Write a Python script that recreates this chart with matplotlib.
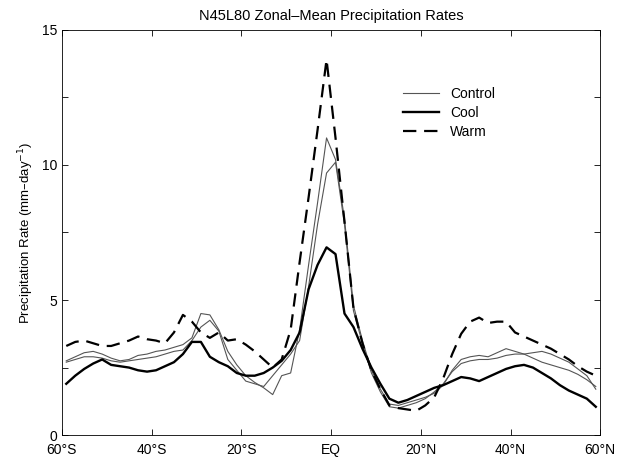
import matplotlib
matplotlib.use('Agg')
from matplotlib import pyplot as plt
from matplotlib.ticker import MultipleLocator

plt.rcParams['font.family'] = ['Liberation Sans', 'DejaVu Sans']

# latitude grid (odd degrees, south -> north)
lats = list(range(-59, 60, 2))

cool = [1.9, 2.2, 2.45, 2.65, 2.8, 2.6, 2.55, 2.5, 2.4, 2.35,
        2.4, 2.55, 2.7, 3.0, 3.45, 3.45, 2.9, 2.7, 2.55, 2.3,
        2.2, 2.2, 2.3, 2.5, 2.75, 3.15, 3.8, 5.4, 6.3, 6.95,
        6.7, 4.5, 4.0, 3.2, 2.5, 1.9, 1.35, 1.2, 1.3, 1.45,
        1.6, 1.75, 1.85, 2.0, 2.15, 2.1, 2.0, 2.15, 2.3, 2.45,
        2.55, 2.6, 2.5, 2.3, 2.1, 1.85, 1.65, 1.5, 1.35, 1.05]

warm = [3.3, 3.45, 3.5, 3.4, 3.3, 3.3, 3.4, 3.5, 3.65, 3.55,
        3.5, 3.4, 3.8, 4.45, 4.2, 3.8, 3.6, 3.8, 3.5, 3.55,
        3.35, 3.1, 2.8, 2.5, 2.8, 3.9, 6.4, 8.8, 11.3, 13.9,
        11.0, 7.9, 4.7, 3.4, 2.4, 1.7, 1.1, 1.0, 0.95, 0.9,
        1.1, 1.4, 2.1, 3.0, 3.75, 4.2, 4.35, 4.15, 4.2, 4.2,
        3.8, 3.65, 3.5, 3.35, 3.2, 3.0, 2.8, 2.55, 2.35, 2.2]

control = [2.75, 2.9, 3.05, 3.1, 3.0, 2.85, 2.75, 2.8, 2.95, 3.0,
           3.1, 3.15, 3.25, 3.35, 3.6, 4.5, 4.45, 3.9, 3.1, 2.6,
           2.2, 1.95, 1.75, 1.5, 2.2, 2.3, 3.9, 6.3, 8.6, 11.0,
           10.2, 8.0, 4.8, 3.5, 2.4, 1.7, 1.15, 1.1, 1.2, 1.3,
           1.4, 1.55, 1.85, 2.4, 2.8, 2.9, 2.95, 2.9, 3.05, 3.2,
           3.1, 3.0, 2.85, 2.7, 2.6, 2.5, 2.4, 2.25, 2.05, 1.8]

control2 = [2.7, 2.8, 2.9, 2.9, 2.85, 2.75, 2.7, 2.75, 2.8, 2.85,
            2.9, 3.0, 3.1, 3.15, 3.5, 4.0, 4.25, 3.85, 2.8, 2.4,
            2.0, 1.9, 1.8, 2.2, 2.6, 3.0, 3.5, 5.5, 7.8, 9.7,
            10.1, 7.8, 4.6, 3.4, 2.3, 1.6, 1.05, 1.0, 1.1, 1.2,
            1.35, 1.6, 1.9, 2.35, 2.65, 2.75, 2.8, 2.8, 2.85, 2.95,
            3.0, 3.0, 3.05, 3.1, 3.0, 2.85, 2.7, 2.45, 2.2, 1.7]

xtick_pos = [-60, -40, -20, 0, 20, 40, 60]
xtick_labels = ['60°S', '40°S', '20°S', 'EQ', '20°N', '40°N', '60°N']

fig = plt.figure(figsize=(6.24, 4.59), dpi=100)
ax = fig.add_axes([0.099, 0.052, 0.863, 0.883])

ax.plot(lats, control, color='#555555', linewidth=0.8, label='Control')
ax.plot(lats, control2, color='#555555', linewidth=0.8)
ax.plot(lats, cool, color='black', linewidth=1.7, label='Cool')
ax.plot(lats, warm, color='black', linewidth=1.6, dashes=(6, 3.5), label='Warm')

ax.set_xlim(-60, 60)
ax.set_ylim(0, 15)
ax.set_xticks(xtick_pos)
ax.set_xticklabels(xtick_labels, fontsize=10)
ax.set_yticks([0, 5, 10, 15])
ax.yaxis.set_minor_locator(MultipleLocator(2.5))
ax.tick_params(axis='both', which='both', direction='in', top=True, right=True,
               length=4, width=0.6, labelsize=10)
ax.tick_params(axis='x', pad=6)
for s in ax.spines.values():
    s.set_linewidth(0.6)

ax.set_title('N45L80 Zonal–Mean Precipitation Rates', fontsize=10.5, pad=7)
ax.set_ylabel('Precipitation Rate (mm–day$^{-1}$)', fontsize=9.5)

ax.legend(loc='upper left', bbox_to_anchor=(0.61, 0.89), frameon=False,
          fontsize=10, handlelength=2.6, labelspacing=0.35, handletextpad=0.8)

fig.savefig('out.png', dpi=100)
